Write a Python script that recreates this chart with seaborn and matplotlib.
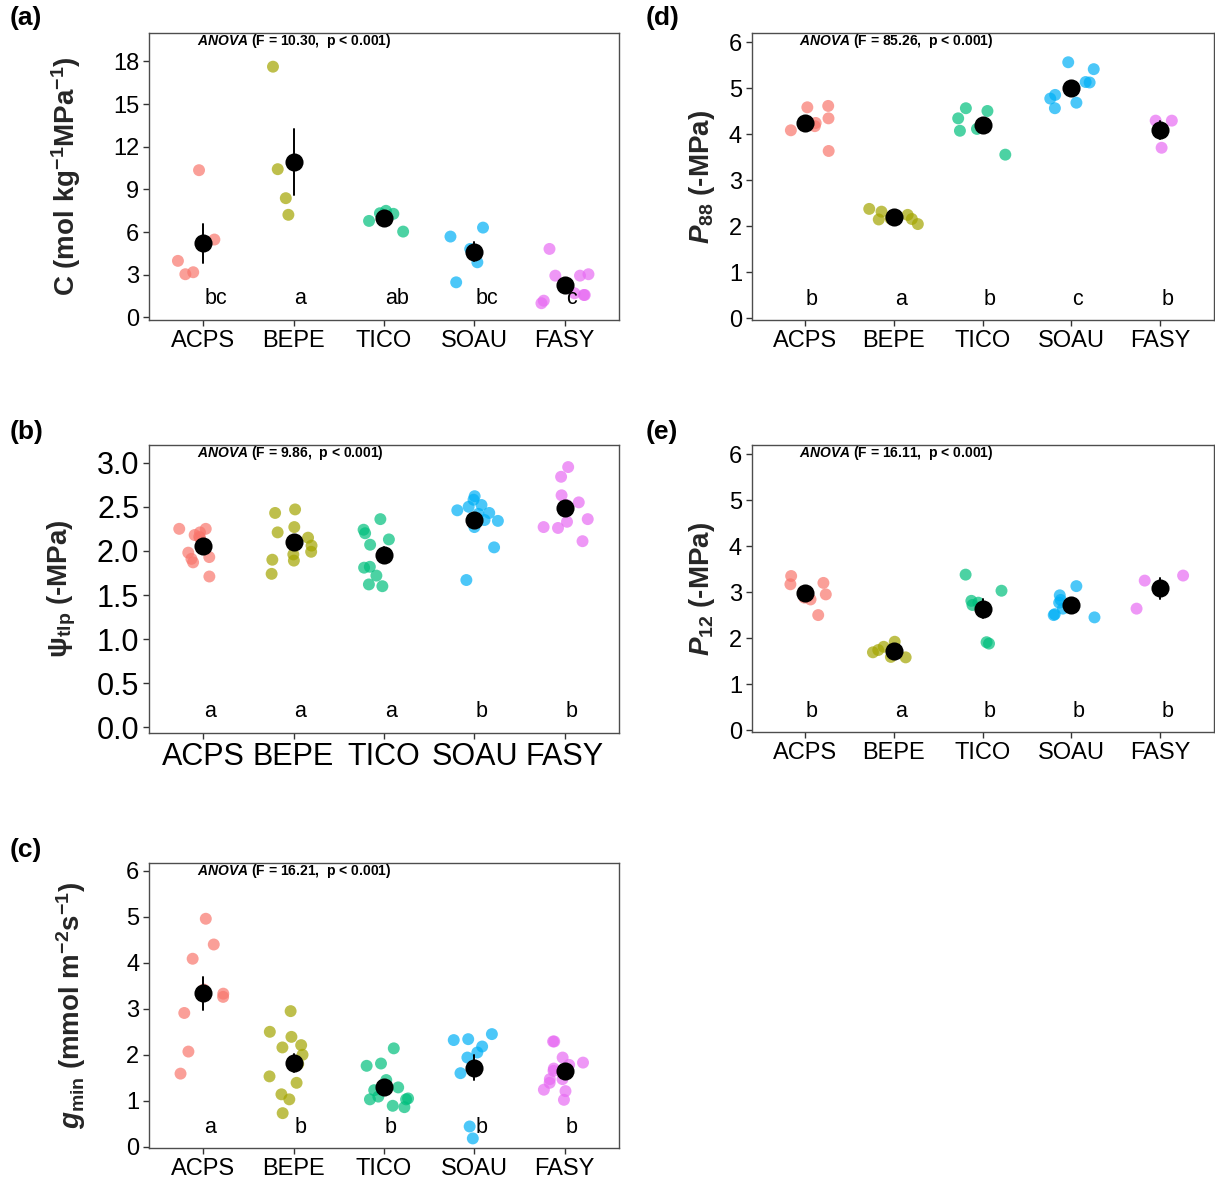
import numpy as np
import pandas as pd
import matplotlib
matplotlib.use("Agg")
import matplotlib.pyplot as plt
import seaborn as sns

# ---------------- data ----------------
species = ["ACPS", "BEPE", "TICO", "SOAU", "FASY"]
palette = ["#F8766D", "#A3A500", "#00BF7D", "#00B0F6", "#E76BF3"]

# (a) capacitance C (mol kg-1 MPa-1)
cap_acps = [10.35, 5.47, 3.97, 3.17, 3.03]
cap_bepe = [17.63, 10.42, 8.38, 7.21]
cap_tico = [7.49, 7.32, 7.28, 6.78, 6.03]
cap_soau = [5.68, 6.31, 4.81, 3.87, 2.46]
cap_fasy = [4.81, 2.93, 3.03, 2.93, 1.69, 1.57, 1.57, 1.17, 0.99]

# (b) psi_tlp (-MPa)
tlp_acps = [2.21, 2.25, 2.25, 2.15, 2.16, 2.18, 1.98, 1.93, 1.87, 1.91, 1.71]
tlp_bepe = [2.47, 2.43, 2.27, 2.21, 2.15, 2.06, 1.96, 1.99, 1.90, 1.89, 1.74]
tlp_tico = [2.36, 2.24, 2.20, 2.13, 2.07, 1.81, 1.82, 1.72, 1.60, 1.62]
tlp_soau = [2.52, 2.58, 2.62, 2.50, 2.43, 2.42, 2.46, 2.35, 2.34, 2.27, 2.04, 1.67]
tlp_fasy = [2.95, 2.84, 2.63, 2.55, 2.52, 2.36, 2.33, 2.27, 2.26, 2.11]

# (c) g_min (mmol m-2 s-1)
gmin_acps = [4.96, 4.40, 4.09, 3.42, 3.26, 3.33, 2.91, 2.07, 1.59]
gmin_bepe = [2.95, 2.50, 2.39, 2.21, 2.16, 2.00, 1.80, 1.53, 1.39, 1.14, 1.03, 0.73]
gmin_tico = [2.14, 1.81, 1.76, 1.45, 1.29, 1.23, 1.03, 1.09, 1.03, 1.05, 0.89, 0.86]
gmin_soau = [2.45, 2.34, 2.32, 2.18, 2.05, 1.94, 1.60, 0.44, 0.18]
gmin_fasy = [2.29, 2.29, 1.94, 1.83, 1.78, 1.70, 1.65, 1.47, 1.47, 1.39, 1.21, 1.24, 1.02]

# (d) P88 (-MPa)
p88_acps = [4.62, 4.59, 4.35, 4.25, 4.18, 4.09, 3.64]
p88_bepe = [2.38, 2.32, 2.17, 2.25, 2.15, 2.16, 2.05]
p88_tico = [4.57, 4.51, 4.35, 4.12, 4.08, 3.56]
p88_soau = [5.57, 5.42, 5.14, 5.13, 4.86, 4.78, 4.69, 4.57]
p88_fasy = [4.30, 4.30, 3.71]

# (e) P12 (-MPa)
p12_acps = [3.35, 3.20, 3.17, 2.95, 2.88, 2.84, 2.50]
p12_bepe = [1.92, 1.81, 1.74, 1.69, 1.58, 1.59]
p12_tico = [3.38, 3.03, 2.81, 2.77, 2.72, 1.88, 1.91]
p12_soau = [3.13, 2.93, 2.83, 2.77, 2.64, 2.50, 2.52, 2.45]
p12_fasy = [3.36, 3.25, 2.64]

letters_a = ["bc", "a", "ab", "bc", "c"]
letters_b = ["a", "a", "a", "b", "b"]
letters_c = ["a", "b", "b", "b", "b"]
letters_d = ["b", "a", "b", "c", "b"]
letters_e = ["b", "a", "b", "b", "b"]

anova_a = " (F = 10.30,  p < 0.001)"
anova_b = " (F = 9.86,  p < 0.001)"
anova_c = " (F = 16.21,  p < 0.001)"
anova_d = " (F = 85.26,  p < 0.001)"
anova_e = " (F = 16.11,  p < 0.001)"

ticks_a = [0, 3, 6, 9, 12, 15, 18]
ticks_b = [0.0, 0.5, 1.0, 1.5, 2.0, 2.5, 3.0]
ticks_six = [0, 1, 2, 3, 4, 5, 6]

# ---------------- style ----------------
sns.set_theme(style="white")
plt.rcParams["font.family"] = ["Liberation Sans", "DejaVu Sans"]
plt.rcParams["mathtext.fontset"] = "custom"
plt.rcParams["mathtext.rm"] = "Liberation Sans:bold"
plt.rcParams["mathtext.bf"] = "Liberation Sans:bold"
plt.rcParams["mathtext.it"] = "Liberation Sans:italic:bold"
plt.rcParams["mathtext.sf"] = "Liberation Sans:bold"

W, H = 1215, 1186
fig = plt.figure(figsize=(W / 100, H / 100), dpi=100)


def rect(left, top, right, bottom):
    return [left / W, 1 - bottom / H, (right - left) / W, (bottom - top) / H]


def make_df(groups):
    rows = []
    for sp, vals in zip(species, groups):
        for v in vals:
            rows.append((sp, v))
    return pd.DataFrame(rows, columns=["species", "value"])


def panel(ax, groups, ylim, yticks, ylabel, label_x, letters, letter_y,
          anova, tick_fs, seed):
    df = make_df(groups)
    np.random.seed(seed)
    sns.stripplot(data=df, x="species", y="value", hue="species",
                  order=species, hue_order=species, palette=palette,
                  jitter=0.28, size=8.6, alpha=0.7, linewidth=0,
                  legend=False, ax=ax, zorder=2)
    sns.pointplot(data=df, x="species", y="value", order=species,
                  errorbar="se", color="black", linestyle="none",
                  marker="o", markersize=11,
                  err_kws={"linewidth": 1.4}, ax=ax, zorder=4)
    ax.set_xlim(-0.6, 4.6)
    ax.set_ylim(*ylim)
    ax.set_yticks(yticks)
    ax.set_xlabel("")
    ax.set_ylabel(ylabel, fontsize=20, fontweight="bold")
    ax.yaxis.set_label_coords(label_x, 0.5)
    for i, lt in enumerate(letters):
        ax.text(i + 0.01, letter_y, lt, ha="left", va="center",
                fontsize=15.5, color="black", zorder=5)
    ax.text(0.102, 0.972, r"$\mathit{ANOVA}$" + anova,
            transform=ax.transAxes, ha="left", va="center",
            fontsize=10, fontweight="bold", color="black")
    for s in ax.spines.values():
        s.set_visible(True)
        s.set_color("#4d4d4d")
        s.set_linewidth(1.0)
    ax.tick_params(axis="both", direction="out", length=4, width=1.0,
                   color="#333333", labelsize=tick_fs, labelcolor="black",
                   bottom=True, left=True, pad=3)
    ax.grid(False)


ax_a = fig.add_axes(rect(149, 33, 619, 320))
ax_b = fig.add_axes(rect(149, 445, 619, 732.7))
ax_c = fig.add_axes(rect(149, 862.7, 619, 1148.3))
ax_d = fig.add_axes(rect(751.7, 33.3, 1213.5, 320))
ax_e = fig.add_axes(rect(751.7, 445, 1213.5, 732.3))

panel(ax_a, [cap_acps, cap_bepe, cap_tico, cap_soau, cap_fasy],
      (-0.19, 20.0), ticks_a,
      r"C (mol kg$^{\mathregular{-1}}$MPa$^{\mathregular{-1}}$)", -0.141,
      letters_a, 1.34, anova_a, 17, 1)
panel(ax_b, [tlp_acps, tlp_bepe, tlp_tico, tlp_soau, tlp_fasy],
      (-0.06, 3.2), ticks_b,
      "\u03c8$_{\\mathregular{tlp}}$ (-MPa)", -0.151,
      letters_b, 0.18, anova_b, 22, 2)
panel(ax_c, [gmin_acps, gmin_bepe, gmin_tico, gmin_soau, gmin_fasy],
      (-0.035, 6.18), ticks_six,
      r"$\mathit{g}_{\mathregular{min}}$ (mmol m$^{\mathregular{-2}}$s$^{\mathregular{-1}}$)",
      -0.13, letters_c, 0.41, anova_c, 17, 3)
panel(ax_d, [p88_acps, p88_bepe, p88_tico, p88_soau, p88_fasy],
      (-0.037, 6.2), ticks_six,
      r"$\mathit{P}_{\mathregular{88}}$ (-MPa)", -0.075,
      letters_d, 0.41, anova_d, 17, 4)
panel(ax_e, [p12_acps, p12_bepe, p12_tico, p12_soau, p12_fasy],
      (-0.05, 6.2), ticks_six,
      r"$\mathit{P}_{\mathregular{12}}$ (-MPa)", -0.075,
      letters_e, 0.40, anova_e, 17, 5)

ax_b.set_yticklabels([f"{t:.1f}" for t in ticks_b])

for tag, (x, y) in zip(["(a)", "(b)", "(c)", "(d)", "(e)"],
                       [(10, 6), (10, 420), (10, 838), (646, 6), (646, 420)]):
    fig.text(x / W, 1 - y / H, tag, ha="left", va="top",
             fontsize=19, fontweight="bold", color="black")

fig.savefig("out.png", dpi=100, facecolor="white")
